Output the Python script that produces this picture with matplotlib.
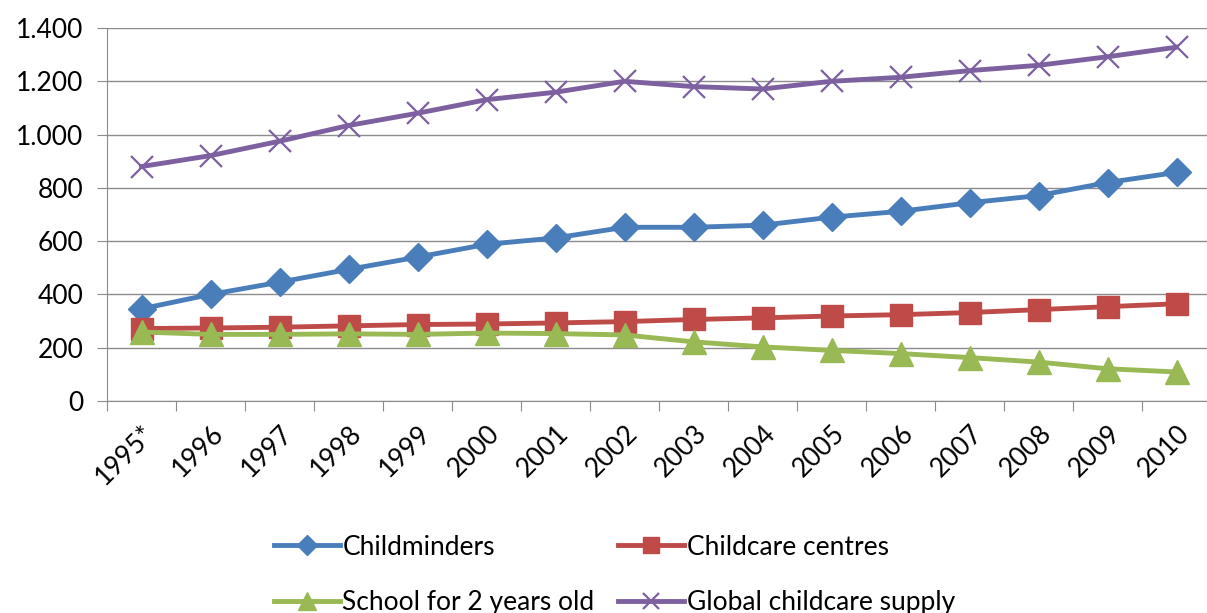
import matplotlib
matplotlib.use('Agg')
import matplotlib.pyplot as plt
from matplotlib.ticker import FuncFormatter
import numpy as np

years = ['1995*', '1996', '1997', '1998', '1999', '2000', '2001', '2002',
         '2003', '2004', '2005', '2006', '2007', '2008', '2009', '2010']
childminders = [346, 400, 446, 494, 540, 588, 612, 652, 652, 660, 690, 712, 744, 771, 820, 858]
centres = [272, 274, 277, 282, 287, 289, 293, 298, 306, 312, 319, 324, 332, 343, 354, 365]
school_2yo = [259, 250, 250, 252, 250, 255, 253, 248, 222, 203, 190, 178, 163, 146, 121, 109]
global_supply = [880, 921, 975, 1034, 1080, 1131, 1159, 1200, 1180, 1171, 1200, 1215, 1240, 1260, 1292, 1328]

plt.rcParams['font.family'] = ['Lato', 'DejaVu Sans']

fig = plt.figure(figsize=(12.07, 6.13), dpi=100)
ax = fig.add_axes([107 / 1207, 212 / 613, 1104 / 1207, 373 / 613])

x = np.arange(len(years))
l1, = ax.plot(x, childminders, color='#4A7EBB', lw=3.5, marker='D', ms=14, label='Childminders', zorder=3)
l2, = ax.plot(x, centres, color='#BE4B48', lw=3.5, marker='s', ms=16, label='Childcare centres', zorder=3)
l3, = ax.plot(x, school_2yo, color='#98B954', lw=3.5, marker='^', ms=17, label='School for 2 years old', zorder=3)
l4, = ax.plot(x, global_supply, color='#7D60A0', lw=3.5, marker='x', ms=16, mew=1.6,
              label='Global childcare supply', zorder=3)

ax.set_ylim(0, 1400)
ax.set_yticks(range(0, 1401, 200))
ax.yaxis.set_major_formatter(FuncFormatter(lambda v, p: f'{int(v):,}'.replace(',', '.')))
ax.grid(axis='y', color='#8c8c8c', lw=1)
ax.set_axisbelow(True)

ax.set_xlim(-0.5, len(years) - 0.5)
ax.set_xticks(np.arange(-0.5, len(years), 1))
ax.set_xticklabels([])
ax.set_xticks(x, minor=True)
ax.set_xticklabels(years, minor=True, rotation=45, ha='right', va='top',
                   rotation_mode='anchor', fontsize=19)
ax.tick_params(axis='x', which='minor', length=0, pad=14)
ax.tick_params(axis='x', which='major', length=7, color='#8c8c8c')
ax.tick_params(axis='y', length=7, color='#8c8c8c', labelsize=19, pad=10)

for s in ['top', 'right']:
    ax.spines[s].set_visible(False)
for s in ['left', 'bottom']:
    ax.spines[s].set_color('#8c8c8c')

# legend fills by column, so order gives Childminders/Centres on the first row
fig.legend([l1, l3, l2, l4], [l.get_label() for l in [l1, l3, l2, l4]],
           loc='lower left', bbox_to_anchor=(250 / 1207, -0.042), ncol=2, frameon=False,
           fontsize=19, handlelength=2.5, handletextpad=0.1, columnspacing=0.9,
           labelspacing=1.15, markerscale=0.75)

fig.savefig('out.png', dpi=100)
